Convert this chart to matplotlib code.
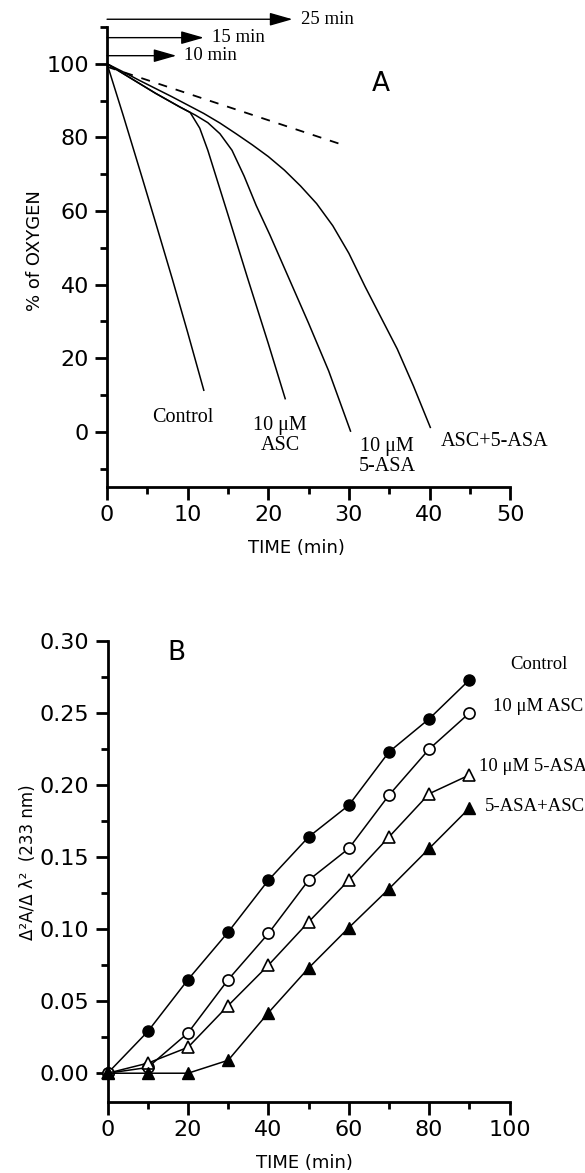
#!/usr/bin/env python3
# coding: utf-8
"""
plot.py  |  oxygen consumption (A) and 2nd derivative absorbance (B)
"""

# %% libraries
import numpy as np
import matplotlib
matplotlib.use('Agg')
import matplotlib.pyplot as plt
from matplotlib.ticker import MultipleLocator

# %% data
# panel A: % of oxygen vs time (min)
ctrl_t = [0, 2, 4.4, 6, 8.1, 10, 12]
ctrl_o2 = [100, 86, 68.7, 57, 41.5, 27, 11.3]

asc_t = [0, 3, 6, 9, 10.3, 11.5, 12.5, 13.5, 15, 17.4, 20, 22.1]
asc_o2 = [100, 96, 92, 88.3, 86.8, 82.5, 76.5, 69.5, 59, 42, 24, 9]

asa_t = [0, 3, 6, 9, 11, 12.5, 14, 15.5, 17, 18.5, 20.2, 22.5, 25, 27.5, 30.2]
asa_o2 = [100, 96, 92, 88.3, 86, 84, 81, 76.5, 69.5, 61.5, 53.5, 42, 29.5,
          16.5, 0.2]

comb_t = [0, 2, 4, 6, 8, 10, 12, 14, 16, 18, 20, 22, 24, 26, 28, 30, 32, 34,
          36, 38, 40.1]
comb_o2 = [100, 97.8, 95.5, 93.3, 91.1, 88.8, 86.5, 83.9, 81.0, 78.0, 74.8,
           71.1, 66.8, 62.0, 56.0, 48.5, 39.5, 31.0, 22.5, 12.5, 1.2]

tangent_t = [0, 29.2]
tangent_o2 = [99.2, 78]

# arrows at the top of panel A: (label, y level, tip)
arrow_labels = ['25 min', '15 min', '10 min']
arrow_y = [112.1, 107.1, 102.2]
arrow_tip = [23.0, 12.0, 8.6]

# panel B: second-derivative absorbance vs time (min)
time_b = [0, 10, 20, 30, 40, 50, 60, 70, 80, 90]
control_b = [0, 0.029, 0.065, 0.098, 0.134, 0.164, 0.186, 0.223, 0.246, 0.273]
asc_b = [0, 0.004, 0.028, 0.065, 0.097, 0.134, 0.156, 0.193, 0.225, 0.250]
asa_b = [0, 0.007, 0.018, 0.047, 0.075, 0.105, 0.134, 0.164, 0.194, 0.207]
comb_b = [0, 0, 0, 0.009, 0.042, 0.073, 0.101, 0.128, 0.156, 0.184]

# %% figure
plt.rcParams['font.family'] = 'DejaVu Sans'
serif = 'Liberation Serif'

fig = plt.figure(figsize=(5.85, 11.73), dpi=100)
axA = fig.add_axes([0.183, 0.5848, 0.689, 0.3922])
axB = fig.add_axes([0.184, 0.0605, 0.687, 0.393])


def style(ax):
    for s in ['top', 'right']:
        ax.spines[s].set_visible(False)
    for s in ['left', 'bottom']:
        ax.spines[s].set_linewidth(2.0)
    ax.tick_params(which='major', length=9, width=2.0, labelsize=16, pad=4)
    ax.tick_params(which='minor', length=5, width=2.0)


# --+ panel A
lw = 1.1
axA.plot(ctrl_t, ctrl_o2, color='black', lw=lw)
axA.plot(asc_t, asc_o2, color='black', lw=lw)
axA.plot(asa_t, asa_o2, color='black', lw=lw)
axA.plot(comb_t, comb_o2, color='black', lw=lw)
axA.plot(tangent_t, tangent_o2, color='black', lw=1.3, ls=(0, (5, 5)))

axA.set_xlim(0, 50)
axA.set_ylim(-15, 110)
axA.xaxis.set_major_locator(MultipleLocator(10))
axA.xaxis.set_minor_locator(MultipleLocator(5))
axA.set_yticks([0, 20, 40, 60, 80, 100])
axA.set_yticks([-10, 10, 30, 50, 70, 90, 110], minor=True)
style(axA)

for lab, yy, tip in zip(arrow_labels, arrow_y, arrow_tip):
    axA.annotate('', xy=(tip, yy), xytext=(0, yy), annotation_clip=False,
                 arrowprops=dict(arrowstyle='-|>,head_length=0.7,head_width=0.2',
                                 mutation_scale=20, color='black', lw=1.0,
                                 shrinkA=0, shrinkB=0))
    axA.text(tip + 1.0, yy, lab, family=serif, fontsize=13.5,
             ha='left', va='center', clip_on=False)

axA.text(33.9, 94.4, 'A', fontsize=19, ha='center', va='center')
axA.text(9.35, 3.9, 'Control', family=serif, fontsize=14.5,
         ha='center', va='center')
axA.text(21.5, -1.0, '10 \u03bcM\nASC', family=serif, fontsize=14.5,
         ha='center', va='center', linespacing=1.05)
axA.text(34.7, -6.7, '10 \u03bcM\n5-ASA', family=serif, fontsize=14.5,
         ha='center', va='center', linespacing=1.05)
axA.text(48.1, -2.6, 'ASC+5-ASA', family=serif, fontsize=14.5,
         ha='center', va='center', clip_on=False)

axA.text(-0.179, 0.515, '% of OXYGEN', transform=axA.transAxes,
         rotation=90, fontsize=13, ha='center', va='center')
axA.text(0.47, -0.133, 'TIME (min)', transform=axA.transAxes,
         fontsize=13, ha='center', va='center')

# --+ panel B
ms = 8
axB.plot(time_b, control_b, color='black', lw=lw, marker='o', ms=ms,
         mfc='black', mec='black', clip_on=False)
axB.plot(time_b, asc_b, color='black', lw=lw, marker='o', ms=ms,
         mfc='white', mec='black', mew=1.2, clip_on=False)
axB.plot(time_b, asa_b, color='black', lw=lw, marker='^', ms=ms + 1,
         mfc='white', mec='black', mew=1.2, clip_on=False)
axB.plot(time_b, comb_b, color='black', lw=lw, marker='^', ms=ms + 1,
         mfc='black', mec='black', clip_on=False)

axB.set_xlim(0, 100)
axB.set_ylim(-0.02, 0.30)
axB.xaxis.set_major_locator(MultipleLocator(20))
axB.xaxis.set_minor_locator(MultipleLocator(10))
axB.yaxis.set_major_locator(MultipleLocator(0.05))
axB.set_yticks(np.arange(0.025, 0.3, 0.05), minor=True)
axB.yaxis.set_major_formatter(plt.FormatStrFormatter('%.2f'))
style(axB)

axB.text(17, 0.292, 'B', fontsize=19, ha='center', va='center')
axB.text(100.1, 0.2835, 'Control', family=serif, fontsize=13.5,
         ha='left', va='center', clip_on=False)
axB.text(95.8, 0.2544, '10 \u03bcM ASC', family=serif, fontsize=13.5,
         ha='left', va='center', clip_on=False)
axB.text(92.4, 0.2127, '10 \u03bcM 5-ASA', family=serif, fontsize=13.5,
         ha='left', va='center', clip_on=False)
axB.text(93.9, 0.185, '5-ASA+ASC', family=serif, fontsize=13.5,
         ha='left', va='center', clip_on=False)

axB.text(-0.198, 0.52, '\u0394\u00b2A/\u0394 \u03bb\u00b2  (233 nm)',
         transform=axB.transAxes, rotation=90, fontsize=12,
         ha='center', va='center')
axB.text(0.49, -0.132, 'TIME (min)', transform=axB.transAxes,
         fontsize=13, ha='center', va='center')

# save plot to file
plt.savefig('out.png', dpi=100)
